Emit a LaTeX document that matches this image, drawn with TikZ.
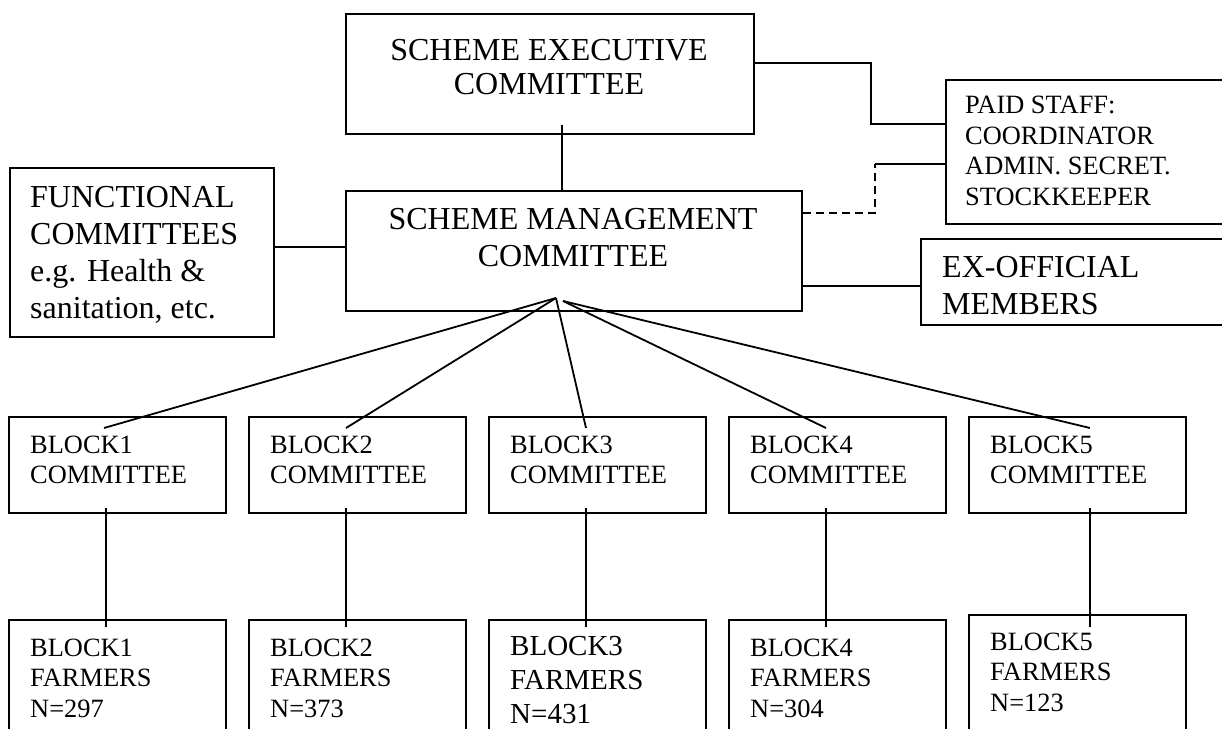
\documentclass[tikz,border=0pt]{standalone}
\usepackage{fontspec}
\setmainfont{Liberation Serif}

\tikzset{
	box/.style={draw, rectangle, line width=2pt, inner sep=0pt, anchor=north west},
	link/.style={line width=1.8pt},
	bigtext/.style={font=\fontsize{32}{37}\selectfont, inner sep=0pt},
	smalltext/.style={font=\fontsize{26.4}{30.5}\selectfont, inner sep=0pt, anchor=west, align=left},
}

\begin{document}
\begin{tikzpicture}[x=1pt, y=-1pt]
		\clip (0,0) rectangle (1222,728);

		% Top: executive and management
		\node[box, minimum width=408pt, minimum height=120pt] (exec) at (345,13) {};
		\node[bigtext, font=\fontsize{32}{34}\selectfont, align=center] (exectext) at (549,67) {SCHEME EXECUTIVE\\COMMITTEE};

		\node[box, minimum width=456pt, minimum height=120pt] (mgmt) at (345,190) {};
		\node[bigtext, align=center] (mgmttext) at (573,238) {SCHEME MANAGEMENT\\COMMITTEE};

		% Side boxes
		\node[box, minimum width=264pt, minimum height=169pt] (func) at (9,167) {};
		\node[bigtext, anchor=west, align=left] (functext) at (30,255) {FUNCTIONAL\\COMMITTEES\\e.g. Health \&\\sanitation, etc.};

		\node[box, minimum width=320pt, minimum height=144pt] (paid) at (945,79) {};
		\node[smalltext] (paidtext) at (965,151) {PAID STAFF:\\COORDINATOR\\ADMIN. SECRET.\\STOCKKEEPER};

		\node[box, minimum width=340pt, minimum height=86pt] (exoff) at (920,238) {};
		\node[bigtext, anchor=west, align=left] (exofftext) at (942,286) {EX-OFFICIAL\\MEMBERS};

		% Links around management
		\draw[link] ([xshift=12pt, yshift=10pt]exec.south) -- ([xshift=-12pt]mgmt.north);
		\coordinate (fl) at ([yshift=4pt]mgmt.west);
		\draw[link] (fl) -- (fl -| func.east);
		\coordinate (pu) at ([yshift=28pt]paid.west);
		\draw[link] ([yshift=11pt]exec.east) -- ++(116,0) |- (pu);
		\coordinate (pl) at ([yshift=-12pt]paid.west);
		\draw[link, dash pattern=on 8pt off 5pt] ([yshift=38pt]mgmt.east) -- ++(72,0) coordinate (dk) -- (dk |- pl);
		\draw[link] (dk |- pl) -- (pl);
		\coordinate (xo) at ([yshift=-35pt]mgmt.east);
		\draw[link] (xo) -- (xo -| exoff.west);

		% Block committees
		\node[box, minimum width=217pt, minimum height=96pt] (com1) at (8,416) {};
		\node[smalltext] (com1text) at (30,460) {BLOCK1\\COMMITTEE};
		\node[box, minimum width=217pt, minimum height=96pt] (com2) at (248,416) {};
		\node[smalltext] (com2text) at (270,460) {BLOCK2\\COMMITTEE};
		\node[box, minimum width=217pt, minimum height=96pt] (com3) at (488,416) {};
		\node[smalltext] (com3text) at (510,460) {BLOCK3\\COMMITTEE};
		\node[box, minimum width=217pt, minimum height=96pt] (com4) at (728,416) {};
		\node[smalltext] (com4text) at (750,460) {BLOCK4\\COMMITTEE};
		\node[box, minimum width=217pt, minimum height=96pt] (com5) at (968,416) {};
		\node[smalltext] (com5text) at (990,460) {BLOCK5\\COMMITTEE};

		% Block farmers
		\node[box, minimum width=217pt, minimum height=140pt] (farm1) at (8,619) {};
		\node[smalltext] (farm1text) at (30,678) {BLOCK1\\FARMERS\\N=297};
		\node[box, minimum width=217pt, minimum height=140pt] (farm2) at (248,619) {};
		\node[smalltext] (farm2text) at (270,678) {BLOCK2\\FARMERS\\N=373};
		\node[box, minimum width=217pt, minimum height=140pt] (farm3) at (488,619) {};
		\node[smalltext, font=\fontsize{29}{34}\selectfont] (farm3text) at (510,680) {BLOCK3\\FARMERS\\N=431};
		\node[box, minimum width=217pt, minimum height=140pt] (farm4) at (728,619) {};
		\node[smalltext] (farm4text) at (750,678) {BLOCK4\\FARMERS\\N=304};
		\node[box, minimum width=217pt, minimum height=140pt] (farm5) at (968,614) {};
		\node[smalltext] (farm5text) at (990,672) {BLOCK5\\FARMERS\\N=123};

		% Fan from management to the blocks
		\coordinate (fanL) at (556,298);
		\coordinate (fanR) at (563,301);
		\draw[link] (fanL) -- ([xshift=-13.5pt, yshift=-12pt]com1.north);
		\draw[link] (fanL) -- ([xshift=-11.5pt, yshift=-12pt]com2.north);
		\draw[link] (fanL) -- ([xshift=-11.5pt, yshift=-12pt]com3.north);
		\draw[link] (fanR) -- ([xshift=-11.5pt, yshift=-12pt]com4.north);
		\draw[link] (fanR) -- ([xshift=12.5pt, yshift=-12pt]com5.north);

		% Committees down to farmers
		\draw[link] ([xshift=-11.5pt, yshift=6pt]com1.south) -- ([xshift=-11.5pt, yshift=-8pt]farm1.north);
		\draw[link] ([xshift=-11.5pt, yshift=6pt]com2.south) -- ([xshift=-11.5pt, yshift=-8pt]farm2.north);
		\draw[link] ([xshift=-11.5pt, yshift=6pt]com3.south) -- ([xshift=-11.5pt, yshift=-8pt]farm3.north);
		\draw[link] ([xshift=-11.5pt, yshift=6pt]com4.south) -- ([xshift=-11.5pt, yshift=-8pt]farm4.north);
		\draw[link] ([xshift=12.5pt, yshift=6pt]com5.south) -- ([xshift=12.5pt, yshift=-13pt]farm5.north);
	\end{tikzpicture}
\end{document}
